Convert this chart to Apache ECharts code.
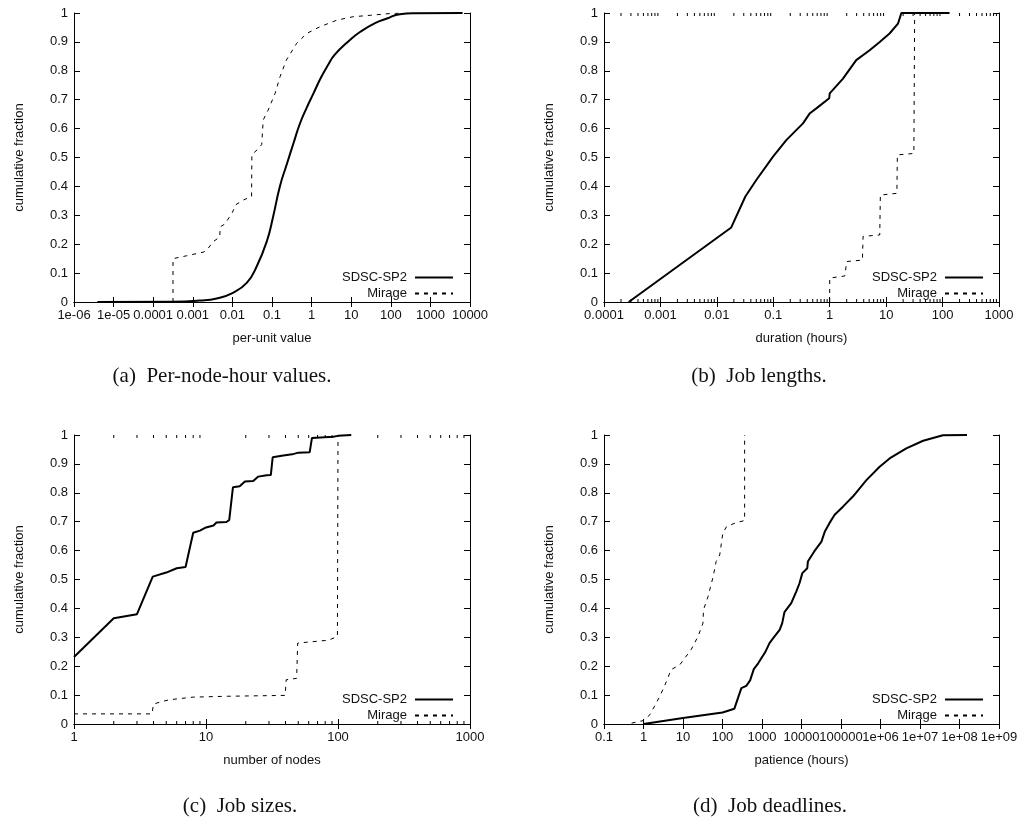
<!DOCTYPE html>
<html>
<head>
<meta charset="utf-8">
<script src="https://cdn.jsdelivr.net/npm/echarts@6/dist/echarts.min.js"></script>
<style>
  html, body { margin: 0; padding: 0; background: #fff; }
  #chart { width: 1021px; height: 826px; }
</style>
</head>
<body>
<div id="chart"></div>
<script>
// ---------------- data (x, cumulative fraction) ----------------
const seriesNames = ['SDSC-SP2', 'Mirage'];

// (a) per-unit value
const perUnitSdsc = [[3.9e-6,0],[3e-4,0.001],[0.0015,0.005],[0.004,0.012],[0.01,0.031],[0.023,0.066],[0.041,0.123],[0.074,0.21],[0.107,0.296],[0.158,0.40],[0.234,0.475],[0.35,0.55],[0.5,0.615],[0.75,0.672],[1.1,0.72],[1.7,0.775],[2.6,0.82],[3.8,0.855],[9,0.905],[17,0.935],[40,0.965],[80,0.981],[170,0.996],[400,0.999],[6500,1.0]];
const perUnitMirage = [[3.16e-4,0],[3.16e-4,0.15],[7e-4,0.16],[0.0019,0.173],[0.0022,0.178],[0.0033,0.209],[0.0048,0.225],[0.0049,0.26],[0.0065,0.27],[0.01,0.31],[0.012,0.336],[0.019,0.353],[0.0305,0.365],[0.031,0.51],[0.045,0.53],[0.055,0.545],[0.06,0.63],[0.08,0.664],[0.12,0.722],[0.16,0.78],[0.23,0.837],[0.42,0.895],[0.75,0.929],[1.6,0.952],[4.3,0.975],[11,0.987],[30,0.992],[95,0.998],[200,1.0]];

// (b) duration (hours)
const durationSdsc = [[2.74e-4,0],[0.018,0.258],[0.032,0.365],[0.05,0.422],[0.099,0.503],[0.17,0.56],[0.336,0.618],[0.44,0.652],[0.58,0.67],[0.98,0.705],[1.0,0.722],[1.72,0.773],[2.95,0.837],[5.1,0.871],[7.7,0.90],[11.5,0.929],[16.2,0.963],[18.6,1.0],[133,1.0]];
const durationMirage = [[1,0],[1,0.083],[1.85,0.09],[2,0.14],[3.8,0.145],[3.9,0.227],[7.7,0.232],[7.9,0.37],[15.5,0.376],[15.8,0.509],[31,0.514],[32,1.0]];

// (c) number of nodes
const nodesSdsc = [[1,0.232],[2,0.366],[3,0.38],[3.95,0.51],[5,0.524],[6,0.539],[7,0.543],[8,0.662],[9,0.669],[10,0.68],[11.4,0.687],[12,0.697],[14.3,0.699],[15,0.706],[16,0.819],[18,0.823],[19.7,0.839],[22.8,0.841],[24.9,0.856],[28.8,0.861],[31,0.862],[32,0.923],[38.5,0.929],[45,0.933],[50,0.939],[61,0.94],[63.5,0.99],[92,0.994],[100,0.997],[126,1.0]];
const nodesMirage = [[1,0.035],[3.9,0.035],[4,0.069],[4.5,0.076],[5.3,0.084],[8,0.093],[14.5,0.096],[39.8,0.099],[40.5,0.153],[48.6,0.158],[49.5,0.28],[85,0.29],[99,0.303],[100,1.0]];

// (d) patience (hours)
const patienceSdsc = [[1,0],[10,0.021],[100,0.04],[200,0.053],[300,0.124],[400,0.132],[500,0.151],[620,0.19],[800,0.21],[1200,0.248],[1550,0.28],[1900,0.296],[2800,0.326],[3250,0.349],[3700,0.387],[5500,0.418],[7400,0.459],[8900,0.487],[10500,0.522],[14000,0.539],[14500,0.562],[21000,0.597],[32000,0.631],[39000,0.666],[51000,0.695],[69000,0.724],[112000,0.752],[200000,0.787],[440000,0.844],[950000,0.89],[1.7e6,0.919],[4.5e6,0.954],[1.2e7,0.98],[3.8e7,0.999],[1.55e8,1.0]];
const patienceMirage = [[0.5,0.003],[1,0.012],[1.45,0.032],[2.6,0.096],[3.8,0.147],[5,0.188],[8.3,0.205],[16,0.257],[24,0.303],[32,0.349],[33,0.395],[43,0.441],[58,0.51],[69,0.562],[85,0.585],[102,0.66],[126,0.683],[224,0.697],[363,0.704],[363,1.0]];

// axis ranges and labels
const xMins = [1e-6, 1e-4, 1, 0.1];
const xMaxs = [1e4, 1e3, 1e3, 1e9];
const xNames = ['per-unit value', 'duration (hours)', 'number of nodes', 'patience (hours)'];
const yName = 'cumulative fraction';
const captions = ['(a)  Per-node-hour values.', '(b)  Job lengths.', '(c)  Job sizes.', '(d)  Job deadlines.'];
// minor tick decades for panels (b) and (c)
const minorMultipliers = [2, 3, 4, 5, 6, 7, 8, 9];
const minorDecadesB = [1e-4, 1e-3, 1e-2, 1e-1, 1, 10, 100];
const minorDecadesC = [1, 10, 100];

// ---------------- layout ----------------
const FONT = '"Liberation Sans", Arial, Helvetica, sans-serif';
const grids = [
  { left: 74, top: 13, width: 396, height: 289 },
  { left: 604, top: 13, width: 395, height: 289 },
  { left: 74, top: 435, width: 396, height: 289 },
  { left: 604, top: 435, width: 395, height: 289 }
];
const legendPos = [
  { right: 567, top: 271 },
  { right: 37, top: 271 },
  { right: 567, top: 693 },
  { right: 37, top: 693 }
];
const captionPos = [[222, 376], [759, 376], [240, 806], [770, 806]];
const smoothFlags = [0.5, false, false, false];

function gLabel(v) {
  const e = Math.round(Math.log10(v));
  if (e < -4) return '1e-' + (-e < 10 ? '0' : '') + (-e);
  if (e >= 6) return '1e+' + (e < 10 ? '0' : '') + e;
  if (e >= 0) return '1' + '0'.repeat(e);
  return '0.' + '0'.repeat(-e - 1) + '1';
}

const lineBlack = { color: '#000', width: 1 };
const xAxes = [], yAxes = [], series = [], legends = [];
for (let i = 0; i < 4; i++) {
  const decades = Math.round(Math.log10(xMaxs[i] / xMins[i]));
  const base = {
    gridIndex: i, type: 'log', logBase: 10, min: xMins[i], max: xMaxs[i],
    interval: 1, splitNumber: decades, splitLine: { show: false },
    axisLine: { show: true, lineStyle: lineBlack },
    axisTick: { show: true, inside: true, length: 5, lineStyle: lineBlack }
  };
  xAxes.push(Object.assign({}, base, {
    position: 'bottom',
    axisLabel: { show: true, formatter: gLabel, color: '#111', fontSize: 13, fontFamily: FONT, margin: 7 },
    name: xNames[i], nameLocation: 'middle', nameGap: 30,
    nameTextStyle: { color: '#111', fontSize: 13, fontFamily: FONT }
  }));
  xAxes.push(Object.assign({}, base, { position: 'top', axisLabel: { show: false } }));
  const ybase = {
    gridIndex: i, type: 'value', min: 0, max: 1, interval: 0.1,
    splitLine: { show: false },
    axisLine: { show: true, lineStyle: lineBlack },
    axisTick: { show: true, inside: true, length: 6, lineStyle: lineBlack }
  };
  yAxes.push(Object.assign({}, ybase, {
    position: 'left',
    axisLabel: { show: true, formatter: v => String(Math.round(v * 10) / 10), color: '#111', fontSize: 13, fontFamily: FONT, margin: 6 },
    name: yName, nameLocation: 'middle', nameGap: 48, nameRotate: 90,
    nameTextStyle: { color: '#111', fontSize: 13, fontFamily: FONT }
  }));
  yAxes.push(Object.assign({}, ybase, { position: 'right', axisLabel: { show: false } }));
  legends.push({
    orient: 'vertical', right: legendPos[i].right, top: legendPos[i].top,
    align: 'right', itemWidth: 38, itemHeight: 10, itemGap: 3, padding: 0,
    selectedMode: false, data: seriesNames,
    itemStyle: { opacity: 0 },
    textStyle: { color: '#111', fontSize: 13, fontFamily: FONT, padding: [0, 3, 0, 0] }
  });
}

const panelData = [
  [perUnitSdsc, perUnitMirage],
  [durationSdsc, durationMirage],
  [nodesSdsc, nodesMirage],
  [patienceSdsc, patienceMirage]
];
panelData.forEach((pair, i) => {
  series.push({
    name: seriesNames[0], type: 'line', xAxisIndex: 2 * i, yAxisIndex: 2 * i,
    data: pair[0], symbol: 'none', smooth: smoothFlags[i], animation: false,
    lineStyle: { color: '#000', width: 2, type: 'solid' }, itemStyle: { color: '#000' }
  });
  series.push({
    name: seriesNames[1], type: 'line', xAxisIndex: 2 * i, yAxisIndex: 2 * i,
    data: pair[1], symbol: 'none', smooth: false, animation: false,
    lineStyle: { color: '#000', width: 1, type: [4, 5] }, itemStyle: { color: '#000' }
  });
});

function minorTickValues(decades) {
  const out = [];
  decades.forEach(d => minorMultipliers.forEach(m => out.push([m * d, 0])));
  return out;
}
function renderMinorTick(params, api) {
  const v = api.value(0);
  const b = api.coord([v, 0]);
  const t = api.coord([v, 1]);
  return {
    type: 'group', silent: true, children: [
      { type: 'line', shape: { x1: b[0], y1: b[1], x2: b[0], y2: b[1] - 3 }, style: { stroke: '#000', lineWidth: 1 } },
      { type: 'line', shape: { x1: t[0], y1: t[1], x2: t[0], y2: t[1] + 3 }, style: { stroke: '#000', lineWidth: 1 } }
    ]
  };
}
[[1, minorDecadesB], [2, minorDecadesC]].forEach(([i, dec]) => {
  series.push({
    name: 'minor ticks ' + i, type: 'custom', xAxisIndex: 2 * i, yAxisIndex: 2 * i,
    data: minorTickValues(dec), renderItem: renderMinorTick, silent: true, animation: false, z: 1
  });
});

const graphics = captions.map((txt, i) => ({
  type: 'text', x: captionPos[i][0], y: captionPos[i][1],
  style: {
    text: txt, fill: '#111', font: '21px "Liberation Serif", "DejaVu Serif", serif',
    textAlign: 'center', textVerticalAlign: 'middle'
  }
}));

const chart = echarts.init(document.getElementById('chart'), null, { renderer: 'canvas' });
chart.setOption({
  animation: false,
  backgroundColor: '#fff',
  grid: grids,
  xAxis: xAxes,
  yAxis: yAxes,
  legend: legends,
  series: series,
  graphic: graphics
});
</script>
</body>
</html>
